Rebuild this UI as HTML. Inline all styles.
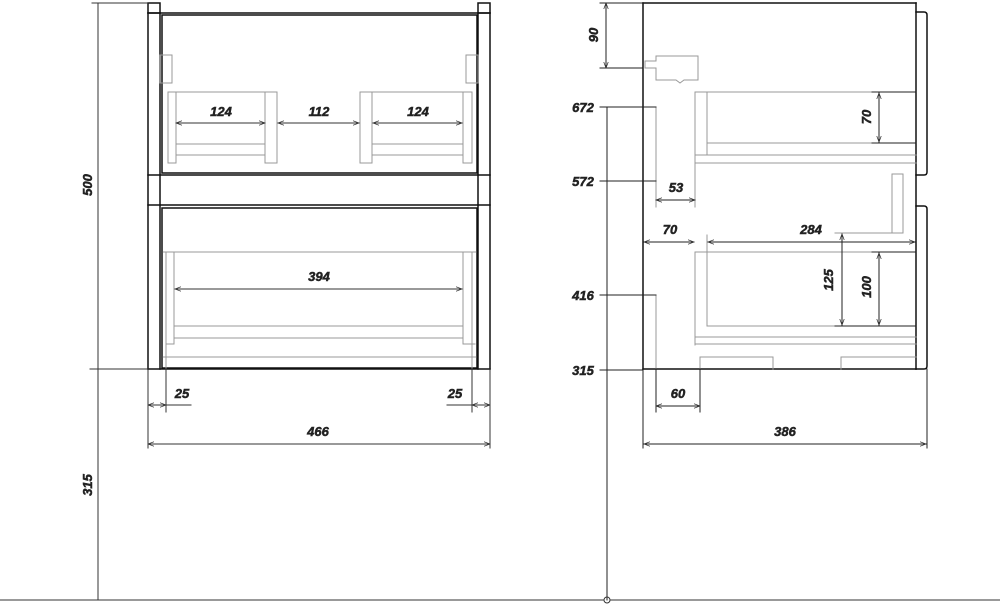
<!DOCTYPE html>
<html><head><meta charset="utf-8"><style>
html,body{margin:0;padding:0;background:#fff;width:1000px;height:607px;overflow:hidden}
text{font-family:"Liberation Sans",sans-serif;font-weight:bold;font-style:italic;font-size:13px;fill:#222;stroke:#222;stroke-width:0.5}
</style></head><body>
<svg width="1000" height="607" viewBox="0 0 1000 607" xmlns="http://www.w3.org/2000/svg">
<defs>
<marker id="a" viewBox="0 0 8 6" refX="8" refY="3" markerWidth="6" markerHeight="5" orient="auto-start-reverse"><path d="M0,0L8,3L0,6" fill="none" stroke="#333" stroke-width="1"/></marker>
</defs>
<g fill="none" stroke-linecap="square">
<g stroke="#111" stroke-width="1.5">
<rect x="148" y="3" width="12" height="10"/><rect x="478" y="3" width="12" height="10"/>
<line x1="148" y1="13" x2="490" y2="13"/>
<line x1="148" y1="13" x2="148" y2="369"/><line x1="490" y1="13" x2="490" y2="369"/>
<line x1="160" y1="13" x2="160" y2="369"/><line x1="478" y1="13" x2="478" y2="369"/>
<rect x="162" y="15" width="315" height="158"/>
<line x1="148" y1="175" x2="490" y2="175"/>
<line x1="148" y1="205" x2="490" y2="205"/>
<rect x="162" y="208" width="315" height="160"/>
<line x1="148" y1="369" x2="490" y2="369"/>
</g>
<g stroke="#999" stroke-width="1">
<rect x="160" y="55" width="12" height="28"/><rect x="466" y="55" width="12" height="28"/>
<rect x="168" y="92" width="8" height="71"/><rect x="265" y="92" width="12" height="71"/>
<rect x="360" y="92" width="12" height="71"/><rect x="463" y="92" width="9" height="71"/>
<line x1="176" y1="92" x2="265" y2="92"/><line x1="372" y1="92" x2="463" y2="92"/>
<line x1="176" y1="144" x2="265" y2="144"/><line x1="176" y1="155" x2="265" y2="155"/>
<line x1="372" y1="144" x2="463" y2="144"/><line x1="372" y1="155" x2="463" y2="155"/>
<line x1="163" y1="252" x2="476" y2="252"/>
<line x1="174" y1="252" x2="174" y2="344"/><line x1="463" y1="252" x2="463" y2="344"/>
<line x1="166" y1="344" x2="174" y2="344"/><line x1="463" y1="344" x2="475" y2="344"/>
<line x1="174" y1="326" x2="463" y2="326"/><line x1="174" y1="338" x2="463" y2="338"/>
<line x1="163" y1="357" x2="476" y2="357"/>
<line x1="166" y1="252" x2="166" y2="368"/><line x1="472" y1="252" x2="472" y2="368"/>
</g>
<g stroke="#333" stroke-width="1">
<line x1="176" y1="123" x2="265" y2="123" marker-start="url(#a)" marker-end="url(#a)"/>
<line x1="278" y1="123" x2="359" y2="123" marker-start="url(#a)" marker-end="url(#a)"/>
<line x1="373" y1="123" x2="462" y2="123" marker-start="url(#a)" marker-end="url(#a)"/>
<line x1="175" y1="289" x2="462" y2="289" marker-start="url(#a)" marker-end="url(#a)"/>
<line x1="148" y1="369" x2="148" y2="448"/><line x1="490" y1="369" x2="490" y2="448"/>
<line x1="166" y1="369" x2="166" y2="412"/><line x1="472" y1="369" x2="472" y2="412"/>
<line x1="148" y1="405" x2="166" y2="405" marker-start="url(#a)" marker-end="url(#a)"/>
<line x1="166" y1="405" x2="191" y2="405"/>
<line x1="472" y1="405" x2="490" y2="405" marker-start="url(#a)" marker-end="url(#a)"/>
<line x1="447" y1="405" x2="472" y2="405"/>
<line x1="148" y1="444" x2="490" y2="444" marker-start="url(#a)" marker-end="url(#a)"/>
<line x1="98" y1="3" x2="98" y2="600"/>
<line x1="92" y1="3" x2="148" y2="3"/><line x1="90" y1="369" x2="148" y2="369"/>
<line x1="0" y1="600" x2="1000" y2="600"/>
</g>
<circle cx="607" cy="600" r="3" stroke="#333" fill="#fff"/>
<g stroke="#111" stroke-width="1.5">
<line x1="643" y1="3" x2="916" y2="3"/><line x1="643" y1="3" x2="643" y2="369"/>
<line x1="916" y1="3" x2="916" y2="369"/><line x1="643" y1="369" x2="916" y2="369"/>
<path d="M916,12H924Q927,12 927,15V172Q927,175 924,175H916"/>
<path d="M916,206H924Q927,206 927,209V366Q927,369 924,369H916"/>
</g>
<g stroke="#999" stroke-width="1">
<path d="M660,56H698V80H684L680,83L676,80H656V68H645V61H656V56Z"/>
<line x1="695" y1="92" x2="695" y2="163"/><line x1="707" y1="92" x2="707" y2="155"/>
<line x1="695" y1="92" x2="872" y2="92"/><line x1="707" y1="143" x2="872" y2="143"/>
<line x1="695" y1="155" x2="916" y2="155"/><line x1="695" y1="163" x2="916" y2="163"/>
<line x1="656" y1="107" x2="656" y2="207"/><line x1="695" y1="163" x2="695" y2="207"/>
<rect x="892" y="174" width="11" height="59"/><line x1="835" y1="233" x2="892" y2="233"/>
<line x1="695" y1="252" x2="872" y2="252"/><line x1="695" y1="252" x2="695" y2="345"/>
<line x1="707" y1="235" x2="707" y2="326"/>
<line x1="707" y1="326" x2="835" y2="326"/><line x1="695" y1="337" x2="916" y2="337"/><line x1="695" y1="344" x2="916" y2="344"/>
<path d="M700,369V357H773V369M841,369V357H916"/>
<line x1="656" y1="295" x2="656" y2="369"/>
</g>
<g stroke="#222" stroke-width="1">
<line x1="872" y1="92" x2="916" y2="92"/><line x1="872" y1="143" x2="916" y2="143"/>
<line x1="872" y1="252" x2="916" y2="252"/><line x1="835" y1="326" x2="916" y2="326"/>
<line x1="606" y1="3" x2="606" y2="68" marker-start="url(#a)" marker-end="url(#a)"/>
<line x1="600" y1="3" x2="643" y2="3"/><line x1="600" y1="68" x2="643" y2="68"/>
<line x1="607" y1="107" x2="607" y2="600"/>
<line x1="600" y1="107" x2="656" y2="107"/><line x1="600" y1="181" x2="656" y2="181"/>
<line x1="600" y1="295" x2="656" y2="295"/><line x1="600" y1="370" x2="643" y2="370"/>
<line x1="879" y1="93" x2="879" y2="142" marker-start="url(#a)" marker-end="url(#a)"/>
<line x1="656" y1="200" x2="695" y2="200" marker-start="url(#a)" marker-end="url(#a)"/>
<line x1="644" y1="242" x2="694" y2="242" marker-start="url(#a)" marker-end="url(#a)"/>
<line x1="708" y1="242" x2="915" y2="242" marker-start="url(#a)" marker-end="url(#a)"/>
<line x1="842" y1="234" x2="842" y2="325" marker-start="url(#a)" marker-end="url(#a)"/>
<line x1="879" y1="253" x2="879" y2="325" marker-start="url(#a)" marker-end="url(#a)"/>
<line x1="700" y1="369" x2="700" y2="412"/><line x1="656" y1="369" x2="656" y2="412"/>
<line x1="656" y1="406" x2="700" y2="406" marker-start="url(#a)" marker-end="url(#a)"/>
<line x1="643" y1="369" x2="643" y2="448"/><line x1="927" y1="369" x2="927" y2="448"/>
<line x1="644" y1="444" x2="926" y2="444" marker-start="url(#a)" marker-end="url(#a)"/>
</g>
</g>
<text x="221" y="116" text-anchor="middle">124</text>
<text x="319" y="116" text-anchor="middle">112</text>
<text x="418" y="116" text-anchor="middle">124</text>
<text x="319" y="281" text-anchor="middle">394</text>
<text x="182" y="398" text-anchor="middle">25</text>
<text x="455" y="398" text-anchor="middle">25</text>
<text x="318" y="436" text-anchor="middle">466</text>
<text transform="translate(92,185) rotate(-90)" text-anchor="middle">500</text>
<text transform="translate(92,485) rotate(-90)" text-anchor="middle">315</text>
<text transform="translate(598,35) rotate(-90)" text-anchor="middle">90</text>
<text x="583" y="112" text-anchor="middle">672</text>
<text x="583" y="186" text-anchor="middle">572</text>
<text x="583" y="300" text-anchor="middle">416</text>
<text x="583" y="375" text-anchor="middle">315</text>
<text transform="translate(871,117) rotate(-90)" text-anchor="middle">70</text>
<text x="676" y="192" text-anchor="middle">53</text>
<text x="670" y="234" text-anchor="middle">70</text>
<text x="811" y="234" text-anchor="middle">284</text>
<text transform="translate(833,280) rotate(-90)" text-anchor="middle">125</text>
<text transform="translate(871,287) rotate(-90)" text-anchor="middle">100</text>
<text x="678" y="398" text-anchor="middle">60</text>
<text x="785" y="436" text-anchor="middle">386</text>
</svg>
</body></html>
